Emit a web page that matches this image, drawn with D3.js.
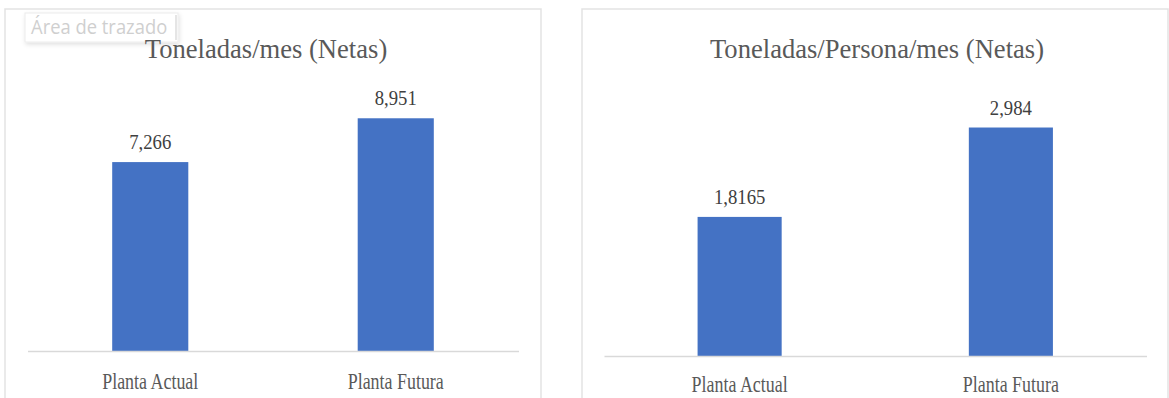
<!DOCTYPE html>
<html>
<head>
<meta charset="utf-8">
<script src="https://cdn.jsdelivr.net/npm/d3@7"></script>
<style>
  body { margin: 0; background: #fff; }
  svg { display: block; }
</style>
</head>
<body>
<script>
var WIDTH = 1169;
var HEIGHT = 398;

// data (Spanish decimal comma in labels)
var categories = ["Planta Actual", "Planta Futura"];
var tonsPerMonth = [7.266, 8.951];
var tonsPerPersonMonth = [1.8165, 2.984];
var titles = ["Toneladas/mes (Netas)", "Toneladas/Persona/mes (Netas)"];

var BAR_COLOR = "#4472c4";
var GRID_COLOR = "#d9d9d9";
var SERIF = "'Liberation Serif', 'Times New Roman', serif";

var svg = d3.select("body")
    .append("svg")
    .attr("width", WIDTH)
    .attr("height", HEIGHT);

var defs = svg.append("defs");
var shadow = defs.append("filter")
    .attr("id", "tipShadow")
    .attr("x", "-10%").attr("y", "-20%")
    .attr("width", "130%").attr("height", "160%");
shadow.append("feDropShadow")
    .attr("dx", 1).attr("dy", 2)
    .attr("stdDeviation", 2)
    .attr("flood-color", "#000")
    .attr("flood-opacity", 0.12);

function fmt(v) {
    return String(v).replace(".", ",");
}

var panelLayer = svg.append("g");
var tipLayer = svg.append("g");
var titleLayer = svg.append("g");

/* one chart panel: frame, title, bars, labels, axis line */
function drawPanel(values, title, p) {
    var g = panelLayer.append("g");

    g.append("rect")
        .attr("x", p.x0)
        .attr("y", p.y0)
        .attr("width", p.x1 - p.x0)
        .attr("height", HEIGHT)
        .attr("fill", "#fff")
        .attr("stroke", "#e3e3e3")
        .attr("stroke-width", 1.5);

    var x = d3.scaleBand()
        .domain(categories)
        .range([p.axisL, p.axisR])
        .paddingInner(0.69)
        .paddingOuter(0.345);

    var y = d3.scaleLinear()
        .domain([0, p.max])
        .range([p.baseline, p.top]);

    g.selectAll(".bar")
        .data(values)
        .enter()
        .append("rect")
        .attr("class", "bar")
        .attr("x", (d, i) => x(categories[i]))
        .attr("y", d => y(d))
        .attr("width", x.bandwidth())
        .attr("height", d => y(0) - y(d))
        .attr("fill", BAR_COLOR);

    g.selectAll(".val")
        .data(values)
        .enter()
        .append("text")
        .attr("class", "val")
        .attr("transform", (d, i) => "translate(" + (x(categories[i]) + x.bandwidth() / 2) +
            "," + (y(d) - 13) + ") scale(0.85,1)")
        .attr("text-anchor", "middle")
        .attr("font-family", SERIF)
        .attr("font-size", "22px")
        .attr("fill", "#404040")
        .text(d => fmt(d));

    var axis = g.append("g")
        .attr("transform", "translate(0," + p.baseline + ")")
        .call(d3.axisBottom(x).tickSizeInner(0).tickSizeOuter(0).tickPadding(0));

    axis.select(".domain")
        .attr("stroke", GRID_COLOR)
        .attr("stroke-width", 1.5);

    axis.selectAll(".tick text")
        .attr("y", p.labelDy)
        .attr("dy", 0)
        .attr("transform", "scale(0.78,1)")
        .attr("font-family", SERIF)
        .attr("font-size", "23px")
        .attr("fill", "#595959");

    // title kept in its own layer so it sits over the hover tip
    titleLayer.append("text")
        .attr("transform", "translate(" + p.titleX + "," + p.titleY + ") scale(0.95,1)")
        .attr("text-anchor", "middle")
        .attr("font-family", SERIF)
        .attr("font-size", "28px")
        .attr("fill", "#595959")
        .text(title);
}

drawPanel(tonsPerMonth, titles[0], {
    x0: 5, x1: 541, y0: 9,
    titleX: 266, titleY: 58,
    axisL: 27.5, axisR: 518.5,
    baseline: 351, top: 91, max: 10,
    labelDy: 38
});

drawPanel(tonsPerPersonMonth, titles[1], {
    x0: 582, x1: 1168, y0: 9,
    titleX: 877, titleY: 58,
    axisL: 604, axisR: 1146.5,
    baseline: 356, top: 88, max: 3.5,
    labelDy: 36
});

/* "Área de trazado" hover tip over the left chart */
tipLayer.append("rect")
    .attr("x", 25)
    .attr("y", 13)
    .attr("width", 153)
    .attr("height", 29)
    .attr("fill", "#fff")
    .attr("stroke", "#ececec")
    .attr("filter", "url(#tipShadow)");
tipLayer.append("line")
    .attr("x1", 176).attr("y1", 15)
    .attr("x2", 176).attr("y2", 40)
    .attr("stroke", "#dcdcdc")
    .attr("stroke-width", 1.5);
tipLayer.append("text")
    .attr("transform", "translate(31,34) scale(0.92,1)")
    .attr("font-family", "'Open Sans', 'Noto Sans', sans-serif")
    .attr("font-size", "20px")
    .attr("fill", "#cfcfcf")
    .text("Área de trazado");
</script>
</body>
</html>
